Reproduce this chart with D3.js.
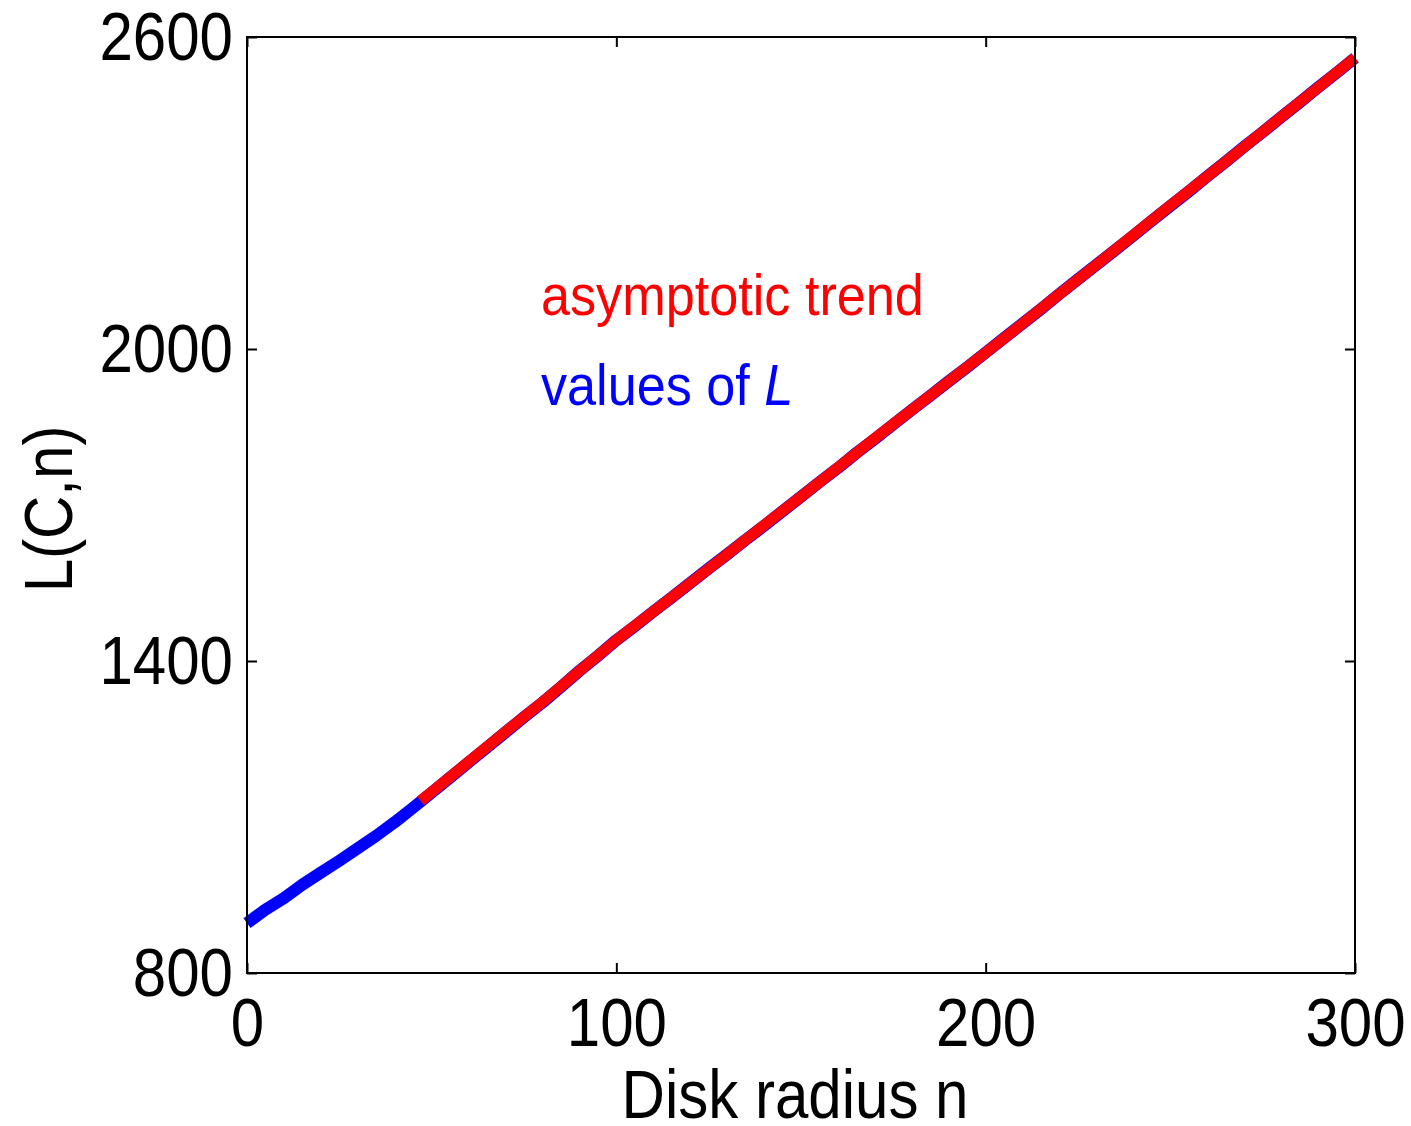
<!DOCTYPE html>
<html>
<head>
<meta charset="utf-8">
<script src="https://cdn.jsdelivr.net/npm/d3@7"></script>
<style>
  body { margin: 0; background: #fff; }
  text { font-family: "Liberation Sans", Arial, sans-serif; }
</style>
</head>
<body>
<div id="canvas"></div>
<script>
"use strict"

/* drawing size */
let svgWidth = 1411;
let svgHeight = 1126;
let plotLeft = 247, plotRight = 1355, plotTop = 37, plotBottom = 973;
let squeeze = 0.87;       // the original axis font is a narrow one
let legendSqueeze = 0.9;

/* data */
let xTicks = [0, 100, 200, 300];
let yTicks = [800, 1400, 2000, 2600];

// values of L, every 5 n
let valueN = [0, 5, 10, 15, 20, 25, 30, 35, 40, 45, 50, 55, 60, 65, 70, 75, 80, 85, 90, 95,
              100, 105, 110, 115, 120, 125, 130, 135, 140, 145, 150, 155, 160, 165, 170, 175, 180, 185, 190, 195,
              200, 205, 210, 215, 220, 225, 230, 235, 240, 245, 250, 255, 260, 265, 270, 275, 280, 285, 290, 295, 300];
let valueL = [896, 922, 944, 970, 993, 1016, 1040, 1064, 1090, 1118, 1147, 1176, 1205, 1234, 1263, 1292, 1320, 1350, 1381, 1410,
              1440, 1467, 1495, 1522, 1550, 1578, 1605, 1633, 1660, 1688, 1716, 1744, 1771, 1800, 1827, 1855, 1883, 1910, 1938, 1965,
              1993, 2021, 2049, 2077, 2106, 2134, 2162, 2190, 2218, 2247, 2275, 2303, 2332, 2360, 2389, 2417, 2446, 2474, 2503, 2531, 2560];

// asymptotic trend
let trendN = [47, 50, 60, 70, 80, 90, 100, 110, 120, 130, 140, 150, 160, 170, 180, 190,
              200, 210, 220, 230, 240, 250, 260, 270, 280, 290, 300];
let trendL = [1131, 1148, 1206, 1264, 1321, 1381, 1440, 1495, 1550, 1605, 1661, 1716, 1772, 1828, 1883, 1938,
              1993, 2049, 2106, 2162, 2219, 2276, 2332, 2389, 2446, 2503, 2560];

let svg = d3.select("#canvas")
    .append("svg")
    .attr("width", svgWidth)
    .attr("height", svgHeight);

let xScale = d3.scaleLinear()
    .domain([0, 300])
    .range([plotLeft, plotRight]);

let yScale = d3.scaleLinear()
    .domain([800, 2600])
    .range([plotBottom, plotTop]);

/* the two curves */
let line = d3.line()
    .x(function (d) { return xScale(d[0]); })
    .y(function (d) { return yScale(d[1]); });

svg.append("path")
    .datum(d3.zip(valueN, valueL))
    .attr("d", line)
    .attr("fill", "none")
    .attr("stroke", "#0000ff")
    .attr("stroke-width", 12)
    .attr("stroke-linejoin", "round");

svg.append("path")
    .datum(d3.zip(trendN, trendL))
    .attr("d", line)
    .attr("fill", "none")
    .attr("stroke", "#ff0000")
    .attr("stroke-width", 11)
    .attr("stroke-linejoin", "round");

/* axes, ticks pointing in */
function styleAxis(g) {
    g.select(".domain").remove();
    g.selectAll(".tick line").attr("stroke", "#000").attr("stroke-width", 2);
    g.selectAll("text")
        .attr("fill", "#000")
        .style("font-size", "69px")
        .attr("x", function () { return (+this.getAttribute("x") || 0) / squeeze; })
        .attr("transform", "scale(" + squeeze + ",1)");
}

svg.append("g")
    .attr("transform", "translate(0," + plotBottom + ")")
    .call(d3.axisBottom(xScale).tickValues(xTicks).tickFormat(d3.format("d")).tickSize(-10).tickPadding(24))
    .call(styleAxis);

svg.append("g")
    .attr("transform", "translate(0," + plotTop + ")")
    .call(d3.axisTop(xScale).tickValues(xTicks).tickSize(-10).tickFormat(""))
    .call(styleAxis);

svg.append("g")
    .attr("transform", "translate(" + plotLeft + ",0)")
    .call(d3.axisLeft(yScale).tickValues(yTicks).tickFormat(d3.format("d")).tickSize(-10).tickPadding(14))
    .call(styleAxis);

svg.append("g")
    .attr("transform", "translate(" + plotRight + ",0)")
    .call(d3.axisRight(yScale).tickValues(yTicks).tickSize(-10).tickFormat(""))
    .call(styleAxis);

/* frame */
svg.append("rect")
    .attr("x", plotLeft)
    .attr("y", plotTop)
    .attr("width", plotRight - plotLeft)
    .attr("height", plotBottom - plotTop)
    .attr("fill", "none")
    .attr("stroke", "#000")
    .attr("stroke-width", 2);

/* narrow text helper */
function addText(x, y, rotate, size, color, sx) {
    return svg.append("g")
        .attr("transform", "translate(" + x + "," + y + ") rotate(" + rotate + ") scale(" + sx + ",1)")
        .append("text")
        .attr("fill", color)
        .style("font-size", size + "px");
}

/* axis labels */
addText((plotLeft + plotRight) / 2 - 6, 1118, 0, 69, "#000", squeeze)
    .attr("text-anchor", "middle")
    .text("Disk radius n");

addText(72, (plotTop + plotBottom) / 2 + 4, -90, 69, "#000", squeeze)
    .attr("text-anchor", "middle")
    .text("L(C,n)");

/* legend text */
addText(541, 315, 0, 58, "#ff0000", legendSqueeze)
    .text("asymptotic trend");

let valuesLabel = addText(541, 405, 0, 58, "#0000ff", legendSqueeze);
valuesLabel.append("tspan").text("values of ");
valuesLabel.append("tspan").style("font-style", "italic").text("L");
</script>
</body>
</html>
